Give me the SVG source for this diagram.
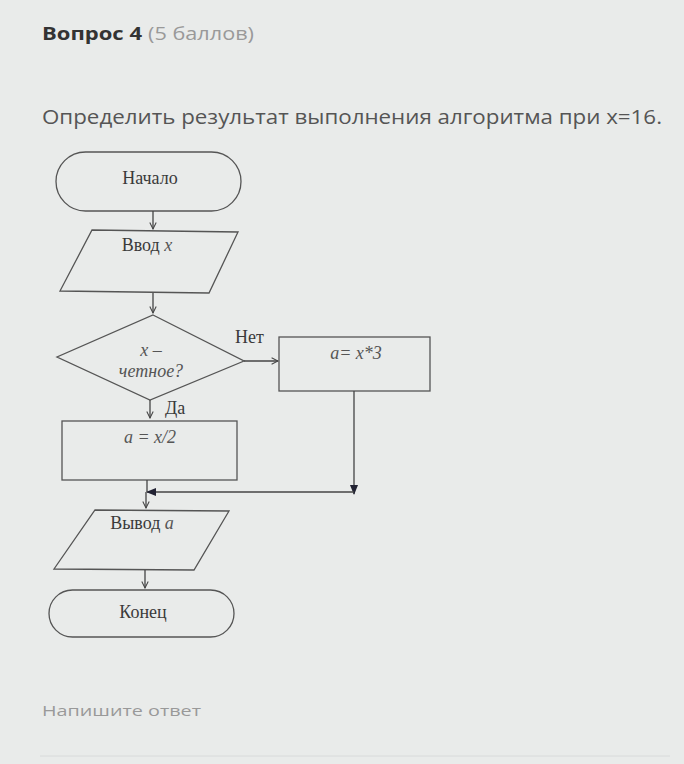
<svg xmlns="http://www.w3.org/2000/svg" width="684" height="764" viewBox="0 0 684 764">
<style>
.sh{fill:none;stroke:#555;stroke-width:1.3}
.ln{fill:none;stroke:#444;stroke-width:1.3}
.t{font-family:"Liberation Serif",serif;font-size:18px;fill:#3a3a3a;text-anchor:middle}
.s{text-anchor:start}
.i{font-style:italic;fill:#555}
.ui{font-family:"Open Sans","Liberation Sans",sans-serif}
</style>
<defs>
<marker id="open" viewBox="0 0 10 10" refX="9" refY="5" markerWidth="8" markerHeight="8" orient="auto" markerUnits="userSpaceOnUse">
<path d="M1,1 L9,5 L1,9" fill="none" stroke="#444" stroke-width="1.3"/>
</marker>
<marker id="fill" viewBox="0 0 10 10" refX="9" refY="5" markerWidth="10" markerHeight="10" orient="auto" markerUnits="userSpaceOnUse">
<path d="M0,1 L10,5 L0,9 Z" fill="#223"/>
</marker>
</defs>
<rect width="684" height="764" fill="#e9ebea"/>
<text x="42" y="40" class="ui" font-size="18" fill="#333"><tspan font-weight="bold" textLength="100" lengthAdjust="spacingAndGlyphs">Вопрос 4</tspan><tspan fill="#999" dx="6" textLength="106" lengthAdjust="spacingAndGlyphs">(5 баллов)</tspan></text>
<text x="42" y="124" class="ui" font-size="20.5" fill="#555" textLength="620" lengthAdjust="spacingAndGlyphs">Определить результат выполнения алгоритма при x=16.</text>

<g id="start"><rect x="56" y="152" width="185" height="59" rx="29.5" class="sh"/><text x="150" y="184" class="t">Начало</text></g>
<g id="input"><path d="M92,230 L238,232 L209,293 L60,291 Z" class="sh"/><text x="147" y="251" class="t">Ввод <tspan class="i">x</tspan></text></g>
<g id="decision"><path d="M153,315 L244,361 L150,400 L57,357 Z" class="sh"/><text x="151" y="356" class="t i" font-size="16">x –</text><text x="151" y="377" class="t i" font-size="16">четное?</text></g>
<g id="mul"><rect x="279" y="337" width="151" height="54" class="sh"/><text x="356" y="359" class="t i" font-size="16">a= x*3</text></g>
<g id="div"><rect x="62" y="421" width="175" height="59" class="sh"/><text x="150" y="443" class="t i" font-size="16">a = x/2</text></g>
<g id="output"><path d="M95,510 L229,511 L194,570 L54,569 Z" class="sh"/><text x="142" y="529" class="t">Вывод <tspan class="i">a</tspan></text></g>
<g id="end"><rect x="49" y="590" width="185" height="47" rx="23.5" class="sh"/><text x="143" y="618" class="t">Конец</text></g>

<g id="connectors">
<line x1="153" y1="211" x2="153" y2="229" class="ln" marker-end="url(#open)"/>
<line x1="153" y1="293" x2="153" y2="313" class="ln" marker-end="url(#open)"/>
<line x1="244" y1="361" x2="278" y2="361" class="ln" marker-end="url(#open)"/>
<text x="235" y="343" class="t s">Нет</text>
<line x1="150" y1="400" x2="150" y2="418" class="ln" marker-end="url(#open)"/>
<text x="165" y="414" class="t s">Да</text>
<line x1="354" y1="391" x2="354" y2="494" class="ln" marker-end="url(#fill)"/>
<line x1="354" y1="492" x2="147" y2="492" class="ln" marker-end="url(#fill)"/>
<line x1="147" y1="480" x2="147" y2="492" class="ln"/>
<line x1="146" y1="492" x2="146" y2="508" class="ln" marker-end="url(#open)"/>
<line x1="145" y1="570" x2="145" y2="588" class="ln" marker-end="url(#open)"/>
</g>

<text x="42" y="716" class="ui" font-size="15" fill="#999" textLength="159" lengthAdjust="spacingAndGlyphs">Напишите ответ</text>
<line x1="40" y1="756" x2="670" y2="756" stroke="#d8dada" stroke-width="1"/>
</svg>
